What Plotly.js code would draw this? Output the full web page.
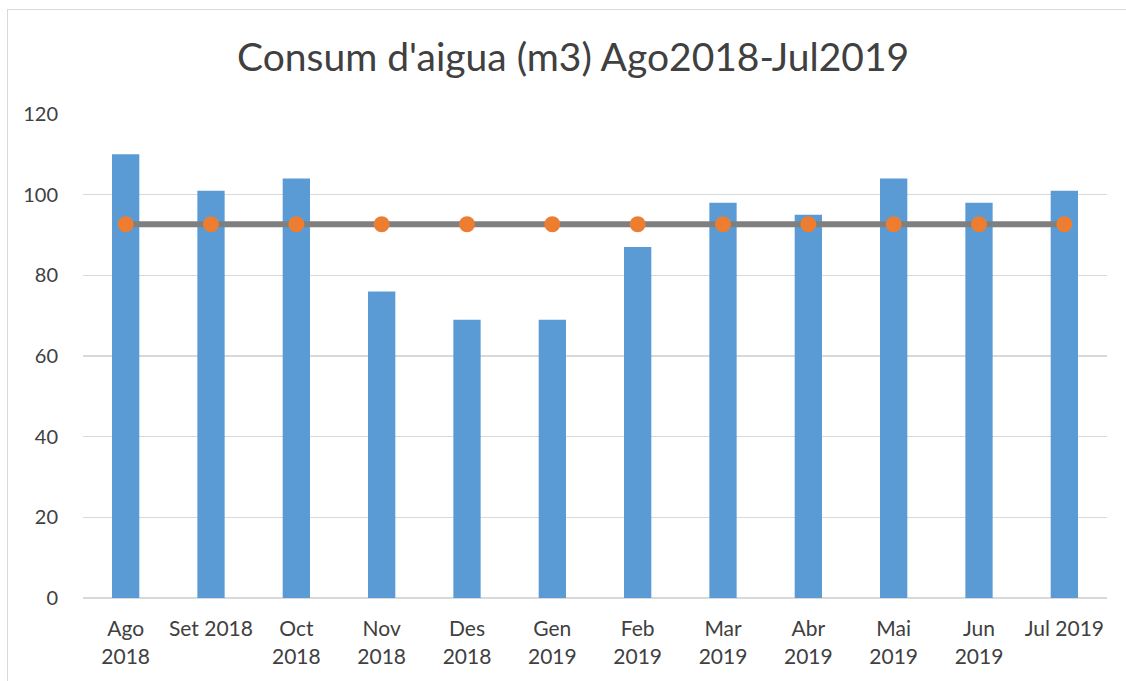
<!DOCTYPE html>
<html>
<head>
<meta charset="utf-8">
<script src="https://cdn.plot.ly/plotly-3.0.1.min.js"></script>
<style>
html,body{margin:0;padding:0;overflow:hidden;background:#fff;}
#frame{position:absolute;left:7px;top:9px;width:1200px;height:800px;border:1px solid #d9d9d9;box-sizing:border-box;}
#chart{position:absolute;left:0;top:0;width:1126px;height:681px;}
</style>
</head>
<body>
<div id="frame"></div>
<div id="chart"></div>
<script>
const categories = ["Ago<br>2018","Set 2018","Oct<br>2018","Nov<br>2018","Des<br>2018","Gen<br>2019","Feb<br>2019","Mar<br>2019","Abr<br>2019","Mai<br>2019","Jun<br>2019","Jul 2019"];
const consum = [110,101,104,76,69,69,87,98,95,104,98,101];
const mitjana = [92.67,92.67,92.67,92.67,92.67,92.67,92.67,92.67,92.67,92.67,92.67,92.67];
const yTicks = [0,20,40,60,80,100,120];

const fontFam = "Lato, 'Open Sans', sans-serif";
const traces = [
  {type:'bar', x:categories, y:consum, marker:{color:'#5b9bd5', line:{width:0}}, hoverinfo:'y', showlegend:false},
  {type:'scatter', mode:'lines+markers', x:categories, y:mitjana,
   line:{color:'#7f7f7f', width:6}, marker:{color:'#ed7d31', size:16}, showlegend:false}
];
const layout = {
  width:1126, height:681,
  paper_bgcolor:'rgba(0,0,0,0)', plot_bgcolor:'rgba(0,0,0,0)',
  margin:{l:83, r:19, t:114, b:83},
  bargap:0.68,
  title:{text:"Consum d'aigua (m3) Ago2018-Jul2019", font:{family:fontFam, size:39, color:'#404040'}, x:0.509, xanchor:'center', y:0.916, yanchor:'middle'},
  xaxis:{type:'category', range:[-0.5, 11.5], autorange:false, tickfont:{family:fontFam, size:21, color:'#404040'}, showgrid:false, showline:false,
         ticks:'outside', ticklen:12, tickcolor:'rgba(0,0,0,0)', tickangle:0, fixedrange:true},
  yaxis:{range:[0,120], tickvals:yTicks, ticktext:yTicks.map(String), tickfont:{family:fontFam, size:20, color:'#404040'},
         showgrid:true, gridcolor:'#d9d9d9', gridwidth:1.5, zeroline:true, zerolinecolor:'#d9d9d9', zerolinewidth:2,
         ticks:'outside', ticklen:20, tickcolor:'rgba(0,0,0,0)', showline:false, fixedrange:true},
  font:{family:fontFam, color:'#404040'}
};
Plotly.newPlot('chart', traces, layout, {displayModeBar:false, staticPlot:true});
</script>
</body>
</html>
